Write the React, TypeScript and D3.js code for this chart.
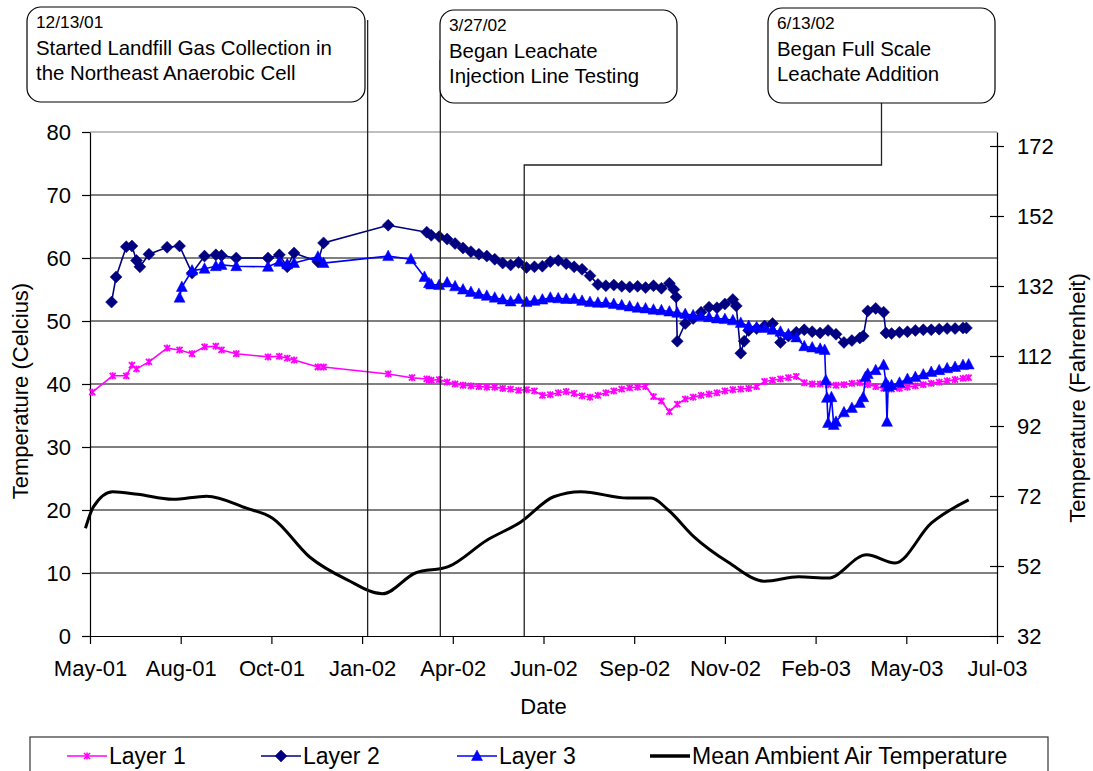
import React, { useEffect, useRef } from 'react';
import * as d3 from 'd3';

// axis ticks
const xTickDates = ['2001-05-17', '2001-08-05', '2001-10-24', '2002-01-12', '2002-04-02', '2002-06-21',
  '2002-09-09', '2002-11-28', '2003-02-16', '2003-05-07', '2003-07-26'];
const xTickLabels = ['May-01', 'Aug-01', 'Oct-01', 'Jan-02', 'Apr-02', 'Jun-02', 'Sep-02', 'Nov-02', 'Feb-03', 'May-03', 'Jul-03'];
const celsiusTicks = [0, 10, 20, 30, 40, 50, 60, 70, 80];
const fahrenheitTicks = [32, 52, 72, 92, 112, 132, 152, 172];

// mean ambient air temperature (C)
const ambient: [string, number][] = [
  ['2001-05-13', 17.1], ['2001-05-20', 20.5], ['2001-06-06', 22.9], ['2001-06-28', 22.5], ['2001-07-29', 21.7],
  ['2001-08-28', 22.2], ['2001-10-02', 20.3], ['2001-10-25', 18.7], ['2001-11-27', 12.5], ['2001-12-30', 8.9],
  ['2002-01-30', 6.7], ['2002-02-28', 10.0], ['2002-03-29', 11.0], ['2002-05-02', 15.2], ['2002-06-01', 18.1],
  ['2002-06-30', 22.1], ['2002-07-24', 22.9], ['2002-09-03', 21.9], ['2002-09-24', 21.9], ['2002-10-09', 20.0],
  ['2002-11-01', 15.7], ['2002-12-01', 11.7], ['2003-01-02', 8.7], ['2003-02-01', 9.4], ['2003-02-27', 9.2],
  ['2003-04-02', 12.9], ['2003-04-27', 11.6], ['2003-05-29', 17.9], ['2003-07-01', 21.6],
];

// early (sparse) readings
const layer1Early: [string, number][] = [
  ['2001-05-19', 38.7], ['2001-06-06', 41.3], ['2001-06-18', 41.3], ['2001-06-23', 43.0], ['2001-06-27', 42.4],
  ['2001-07-08', 43.5], ['2001-07-24', 45.7], ['2001-08-04', 45.4], ['2001-08-15', 44.8], ['2001-08-26', 45.9],
  ['2001-09-05', 46.0], ['2001-09-10', 45.4], ['2001-09-23', 44.8], ['2001-10-21', 44.3], ['2001-10-31', 44.4],
  ['2001-11-07', 44.1], ['2001-11-13', 43.8], ['2001-12-04', 42.7], ['2001-12-09', 42.7], ['2002-02-04', 41.6],
  ['2002-02-25', 41.0], ['2002-03-10', 40.8], ['2002-03-12', 40.6],
];
const layer2Early: [string, number][] = [
  ['2001-06-05', 53.0], ['2001-06-09', 57.0], ['2001-06-18', 61.8], ['2001-06-23', 61.9], ['2001-06-27', 59.6],
  ['2001-06-30', 58.6], ['2001-07-08', 60.6], ['2001-07-24', 61.7], ['2001-08-04', 61.9], ['2001-08-15', 57.6],
  ['2001-08-26', 60.3], ['2001-09-05', 60.5], ['2001-09-10', 60.4], ['2001-09-23', 60.0], ['2001-10-21', 60.0],
  ['2001-10-31', 60.5], ['2001-11-07', 58.6], ['2001-11-13', 60.8], ['2001-12-04', 59.4], ['2001-12-09', 62.4],
  ['2002-02-04', 65.2], ['2002-03-10', 64.1],
];
const layer3Early: [string, number][] = [
  ['2001-08-04', 53.7], ['2001-08-06', 55.4], ['2001-08-15', 58.0], ['2001-08-26', 58.3], ['2001-09-05', 58.7],
  ['2001-09-10', 58.9], ['2001-09-23', 58.7], ['2001-10-21', 58.6], ['2001-10-31', 59.4], ['2001-11-07', 59.0],
  ['2001-11-13', 59.2], ['2001-12-04', 60.2], ['2001-12-09', 59.2], ['2002-02-04', 60.3], ['2002-02-24', 59.8],
  ['2002-03-08', 57.0], ['2002-03-12', 56.0],
];

// weekly readings once leachate work started
const denseDates = [
  '2002-03-14', '2002-03-21', '2002-03-28', '2002-04-04', '2002-04-11', '2002-04-18', '2002-04-25', '2002-05-02',
  '2002-05-09', '2002-05-16', '2002-05-23', '2002-05-30', '2002-06-06', '2002-06-13', '2002-06-20', '2002-06-27',
  '2002-07-04', '2002-07-11', '2002-07-18', '2002-07-25', '2002-08-01', '2002-08-08', '2002-08-15', '2002-08-22',
  '2002-08-29', '2002-09-05', '2002-09-12', '2002-09-19', '2002-09-26', '2002-10-03', '2002-10-10', '2002-10-17',
  '2002-10-24', '2002-10-31', '2002-11-07', '2002-11-14', '2002-11-21', '2002-11-28', '2002-12-05', '2002-12-12',
  '2002-12-19', '2002-12-26', '2003-01-02', '2003-01-09', '2003-01-16', '2003-01-23', '2003-01-30', '2003-02-06',
  '2003-02-13', '2003-02-20', '2003-02-27', '2003-03-06', '2003-03-13', '2003-03-20', '2003-03-27', '2003-04-03',
  '2003-04-10', '2003-04-17', '2003-04-24', '2003-05-01', '2003-05-08', '2003-05-15', '2003-05-22', '2003-05-29',
  '2003-06-05', '2003-06-12', '2003-06-19', '2003-06-26',
];
const layer1Dense = [
  40.6, 40.7, 40.3, 40.0, 39.8, 39.7, 39.6, 39.5, 39.5, 39.3, 39.2, 39.0, 39.1, 38.9, 38.2, 38.3, 38.6, 38.8, 38.5, 38.1,
  37.9, 38.2, 38.6, 38.9, 39.2, 39.4, 39.5, 39.6, 38.0, 37.3, 35.6, 36.8, 37.6, 37.9, 38.2, 38.4, 38.6, 38.9, 39.1, 39.2,
  39.3, 39.6, 40.4, 40.6, 40.8, 41.0, 41.2, 40.2, 40.0, 40.0, 39.9, 39.8, 39.9, 40.1, 40.2, 39.9, 39.6, 39.3, 39.2, 39.3,
  39.5, 39.7, 39.9, 40.1, 40.3, 40.5, 40.7, 40.9,
];
const layer2Dense = [
  63.6, 63.4, 63.0, 62.3, 61.6, 61.0, 60.6, 60.3, 59.8, 59.2, 58.9, 59.3, 58.5, 58.6, 58.7, 59.4, 59.6, 59.1, 58.6, 58.2,
  57.2, 55.8, 55.6, 55.7, 55.5, 55.4, 55.5, 55.3, 55.6, 55.2, 56.0, 46.8, 49.6, 50.4, 51.4, 52.2, 52.1, 52.7, 53.4, 44.9,
  48.5, 48.8, 49.2, 49.6, 46.6, 47.6, 48.2, 48.6, 48.3, 48.1, 48.5, 47.9, 46.6, 46.9, 47.3, 51.6, 52.0, 51.4, 48.0, 48.2,
  48.3, 48.5, 48.6, 48.6, 48.7, 48.8, 48.8, 48.9,
];
const layer3Dense = [
  55.8, 55.7, 56.1, 55.5, 55.0, 54.6, 54.3, 54.0, 53.7, 53.4, 53.1, 53.5, 53.0, 53.2, 53.4, 53.7, 53.6, 53.5, 53.5, 53.2,
  53.0, 52.9, 52.9, 52.7, 52.5, 52.3, 52.1, 52.0, 51.8, 51.7, 51.5, 51.3, 51.1, 50.9, 50.8, 50.6, 50.4, 50.3, 50.1, 49.7,
  49.2, 49.0, 48.9, 48.6, 48.3, 47.9, 47.4, 46.0, 45.8, 45.6, 33.8, 34.0, 35.5, 36.2, 37.0, 41.6, 42.2, 43.0, 39.8, 40.2,
  40.8, 41.1, 41.5, 41.9, 42.2, 42.5, 42.7, 43.0,
];

// extra readings between the weekly ones (sudden drops / jumps)
const layer1Extra: [string, number][] = [['2003-07-01', 41.0]];
const layer2Extra: [string, number][] = [
  ['2002-10-14', 55.0], ['2002-10-16', 53.8], ['2002-12-08', 52.4], ['2002-12-15', 46.8],
  ['2003-03-30', 47.6], ['2003-04-19', 48.1], ['2003-06-29', 48.9],
];
const layer3Extra: [string, number][] = [
  ['2003-02-24', 45.4], ['2003-02-25', 40.6], ['2003-02-26', 37.8], ['2003-03-02', 37.9], ['2003-03-04', 33.5],
  ['2003-03-30', 37.9], ['2003-04-01', 41.1], ['2003-04-19', 40.2], ['2003-04-20', 34.0], ['2003-04-21', 39.6],
  ['2003-07-01', 43.1],
];

const annotations = [
  { date: '12/13/01', text: ['Started Landfill Gas Collection in', 'the Northeast Anaerobic Cell'], lineDate: '2002-01-16' },
  { date: '3/27/02', text: ['Began Leachate', 'Injection Line Testing'], lineDate: '2002-03-22' },
  { date: '6/13/02', text: ['Began Full Scale', 'Leachate Addition'], lineDate: '2002-06-04' },
];

const legendItems = ['Layer 1', 'Layer 2', 'Layer 3', 'Mean Ambient Air Temperature'];

const FONT = '"Liberation Sans", Arial, sans-serif';
const parse = d3.timeParse('%Y-%m-%d');

type Pt = { date: Date; value: number };

function buildSeries(early: [string, number][], dense: number[], extra: [string, number][]): Pt[] {
  const rows: [string, number][] = [...early, ...denseDates.map((d, i) => [d, dense[i]] as [string, number]), ...extra];
  return rows
    .map(([d, v]) => ({ date: parse(d) as Date, value: v }))
    .sort((a, b) => +a.date - +b.date);
}

const App: React.FC = () => {
  const ref = useRef<SVGSVGElement>(null);

  useEffect(() => {
    if (!ref.current) return;
    const svg = d3.select(ref.current);
    svg.selectAll('*').remove();

    const left = 90, right = 997, top = 132, bottom = 636;

    const x = d3.scaleTime()
      .domain([parse(xTickDates[0]) as Date, parse(xTickDates[xTickDates.length - 1]) as Date])
      .range([left, right]);
    const y = d3.scaleLinear().domain([0, 80]).range([bottom, top]);
    const yF = d3.scaleLinear().domain([32, 176]).range([bottom, top]);

    // gridlines
    svg.append('g')
      .selectAll('line')
      .data(celsiusTicks.filter(t => t > 0 && t < 80))
      .enter()
      .append('line')
      .attr('x1', left).attr('x2', right)
      .attr('y1', d => y(d)).attr('y2', d => y(d))
      .attr('stroke', '#000').attr('stroke-width', 1);

    // plot border top
    svg.append('line')
      .attr('x1', left).attr('x2', right)
      .attr('y1', y(80)).attr('y2', y(80))
      .attr('stroke', '#808080').attr('stroke-width', 1.2);

    // left axis
    const gl = svg.append('g')
      .attr('transform', `translate(${left},0)`)
      .call(d3.axisLeft(y).tickValues(celsiusTicks).tickSize(8).tickPadding(11).tickSizeOuter(0));
    gl.selectAll('text').attr('font-size', 22).attr('font-family', FONT).attr('fill', '#000');
    gl.selectAll('line, path').attr('stroke', '#000').attr('stroke-width', 1.2);

    // right axis (Fahrenheit)
    const gr = svg.append('g')
      .attr('transform', `translate(${right},0)`)
      .call(d3.axisRight(yF).tickValues(fahrenheitTicks).tickSize(7).tickPadding(13).tickSizeOuter(0));
    gr.selectAll('.tick line').attr('x1', -7);
    gr.selectAll('text').attr('font-size', 22).attr('font-family', FONT).attr('fill', '#000');
    gr.selectAll('line, path').attr('stroke', '#000').attr('stroke-width', 1.2);

    // bottom axis
    const gb = svg.append('g')
      .attr('transform', `translate(0,${bottom})`)
      .call(d3.axisBottom(x)
        .tickValues(xTickDates.map(d => parse(d) as Date))
        .tickFormat((_, i) => xTickLabels[i])
        .tickSize(8).tickPadding(16).tickSizeOuter(0));
    gb.selectAll('text').attr('font-size', 22).attr('font-family', FONT).attr('fill', '#000');
    gb.selectAll('line, path').attr('stroke', '#000').attr('stroke-width', 1.2);

    // axis titles
    svg.append('text')
      .attr('x', (left + right) / 2).attr('y', 714)
      .attr('text-anchor', 'middle')
      .attr('font-family', FONT).attr('font-size', 22)
      .text('Date');
    svg.append('text')
      .attr('transform', 'translate(20,391) rotate(-90)')
      .attr('dy', '0.35em')
      .attr('text-anchor', 'middle')
      .attr('font-family', FONT).attr('font-size', 22)
      .text('Temperature (Celcius)');
    svg.append('text')
      .attr('transform', 'translate(1077,398) rotate(-90)')
      .attr('dy', '0.35em')
      .attr('text-anchor', 'middle')
      .attr('font-family', FONT).attr('font-size', 22)
      .text('Temperature (Fahrenheit)');

    // series
    const layer1 = buildSeries(layer1Early, layer1Dense, layer1Extra);
    const layer2 = buildSeries(layer2Early, layer2Dense, layer2Extra);
    const layer3 = buildSeries(layer3Early, layer3Dense, layer3Extra);
    const air: Pt[] = ambient.map(([d, v]) => ({ date: parse(d) as Date, value: v }));

    const line = d3.line<Pt>().x(d => x(d.date)).y(d => y(d.value));
    const smooth = d3.line<Pt>().x(d => x(d.date)).y(d => y(d.value)).curve(d3.curveMonotoneX);

    const starPath = 'M-3,-3L3,3M-3,3L3,-3M0,-3.5V3.5';
    const diamondPath = 'M0,-6L6,0L0,6L-6,0Z';
    const trianglePath = 'M0,-6L5.5,4.5L-5.5,4.5Z';

    const series = [
      { data: layer1, color: '#FF00FF', marker: starPath, stroked: true },
      { data: layer2, color: '#000080', marker: diamondPath, stroked: false },
      { data: layer3, color: '#0000FF', marker: trianglePath, stroked: false },
    ];

    series.forEach(s => {
      const g = svg.append('g');
      g.append('path')
        .datum(s.data)
        .attr('d', line)
        .attr('fill', 'none')
        .attr('stroke', s.color)
        .attr('stroke-width', 1.6);
      g.selectAll('.m')
        .data(s.data)
        .enter()
        .append('path')
        .attr('class', 'm')
        .attr('transform', d => `translate(${x(d.date)},${y(d.value)})`)
        .attr('d', s.marker)
        .attr('fill', s.stroked ? 'none' : s.color)
        .attr('stroke', s.color)
        .attr('stroke-width', s.stroked ? 1.8 : 0.5);
    });

    svg.append('path')
      .datum(air)
      .attr('d', smooth)
      .attr('fill', 'none')
      .attr('stroke', '#000')
      .attr('stroke-width', 3);

    // annotations: callout boxes and leader lines
    const boxes = [
      { x: 27, y: 7, w: 338, h: 95 },
      { x: 440, y: 10, w: 237, h: 93 },
      { x: 768, y: 8, w: 227, h: 95 },
    ];
    const lineColor = '#222';
    annotations.forEach((a, i) => {
      const b = boxes[i];
      const lx = x(parse(a.lineDate) as Date);
      if (i === 0) {
        svg.append('line').attr('x1', lx + 1).attr('x2', lx + 1).attr('y1', 20).attr('y2', bottom)
          .attr('stroke', lineColor).attr('stroke-width', 1.3);
      } else if (i === 1) {
        svg.append('line').attr('x1', lx).attr('x2', lx).attr('y1', 60).attr('y2', bottom)
          .attr('stroke', lineColor).attr('stroke-width', 1.3);
      } else {
        const cx = b.x + b.w / 2;
        svg.append('path')
          .attr('d', `M${cx},${b.y + b.h}V165H${lx}V${bottom}`)
          .attr('fill', 'none').attr('stroke', lineColor).attr('stroke-width', 1.3);
      }
      svg.append('rect')
        .attr('x', b.x).attr('y', b.y).attr('width', b.w).attr('height', b.h)
        .attr('rx', 14).attr('ry', 14)
        .attr('fill', '#fff').attr('stroke', '#000').attr('stroke-width', 1.2);
      const t = svg.append('text').attr('font-family', FONT).attr('fill', '#000');
      t.append('tspan').attr('x', b.x + 9).attr('y', b.y + 21).attr('font-size', 17.3).text(a.date);
      a.text.forEach((ln, j) => {
        t.append('tspan').attr('x', b.x + 9).attr('y', b.y + 48 + j * 25).attr('font-size', 20.4).text(ln);
      });
    });

    // legend
    const lg = svg.append('g');
    lg.append('rect')
      .attr('x', 30).attr('y', 737).attr('width', 1018).attr('height', 60)
      .attr('fill', '#fff').attr('stroke', '#333').attr('stroke-width', 1.2);
    const legendX = [67, 261, 457, 650];
    const legendColors = ['#FF00FF', '#000080', '#0000FF', '#000'];
    const legendMarkers = [starPath, diamondPath, trianglePath, ''];
    legendItems.forEach((name, i) => {
      const lx = legendX[i];
      const ly = 756;
      lg.append('line')
        .attr('x1', lx).attr('x2', lx + 40).attr('y1', ly).attr('y2', ly)
        .attr('stroke', legendColors[i]).attr('stroke-width', i === 3 ? 3.5 : 1.6);
      if (legendMarkers[i]) {
        lg.append('path')
          .attr('transform', `translate(${lx + 20},${ly})`)
          .attr('d', legendMarkers[i])
          .attr('fill', i === 0 ? 'none' : legendColors[i])
          .attr('stroke', legendColors[i]).attr('stroke-width', i === 0 ? 1.6 : 0.5);
      }
      lg.append('text')
        .attr('x', lx + 42).attr('y', ly).attr('dy', '0.35em')
        .attr('font-family', FONT).attr('font-size', 23)
        .text(name);
    });
  }, []);

  return (
    <svg
      ref={ref}
      width={1093}
      height={771}
      style={{ position: 'absolute', left: 0, top: 0, background: '#fff' }}
    />
  );
};

export default App;
